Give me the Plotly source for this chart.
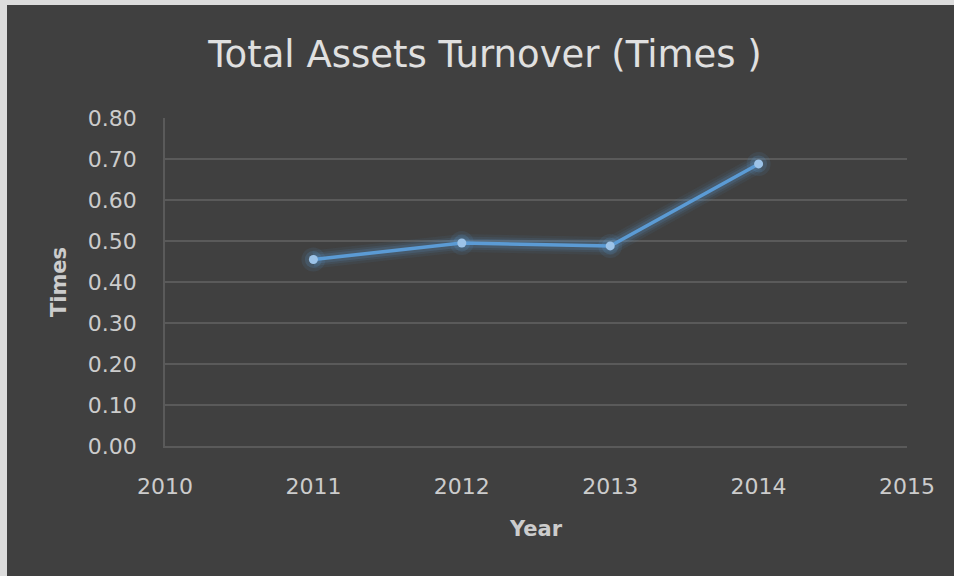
import plotly.graph_objects as go

# Total assets turnover by year
years = [2011, 2012, 2013, 2014]
turnover = [0.455, 0.495, 0.488, 0.688]

y_ticks = [0.0, 0.1, 0.2, 0.3, 0.4, 0.5, 0.6, 0.7, 0.8]
y_tick_labels = ["0.00", "0.10", "0.20", "0.30", "0.40", "0.50", "0.60", "0.70", "0.80"]
x_ticks = [2010, 2011, 2012, 2013, 2014, 2015]

BG = "#404040"
GRID = "#5a5a5a"
TEXT = "#cccccc"
LINE = "#5b9bd5"
FONT = "DejaVu Sans"

W, H = 954, 576
L, R, T, B = 165, 47, 118, 130
PW, PH = W - L - R, H - T - B

fig = go.Figure()

# soft glow under the line
for width, alpha in [(18, 0.07), (13, 0.1), (9, 0.16)]:
    fig.add_trace(go.Scatter(
        x=years, y=turnover, mode="lines",
        line=dict(color=f"rgba(91,155,213,{alpha})", width=width),
        hoverinfo="skip", showlegend=False,
    ))

# glow around the markers
for size, alpha in [(24, 0.1), (17, 0.18)]:
    fig.add_trace(go.Scatter(
        x=years, y=turnover, mode="markers",
        marker=dict(color=f"rgba(91,155,213,{alpha})", size=size, line=dict(width=0)),
        hoverinfo="skip", showlegend=False,
    ))

fig.add_trace(go.Scatter(
    x=years, y=turnover, mode="lines+markers",
    line=dict(color=LINE, width=3.5),
    marker=dict(color="#9cc3e8", size=9, line=dict(width=0)),
    showlegend=False,
))

# light frame strips along the left and top edges
px = lambda v: (v - L) / PW
py = lambda v: (H - B - v) / PH
shapes = [
    dict(type="rect", xref="paper", yref="paper", x0=px(0), x1=px(7), y0=py(H), y1=py(0),
         fillcolor="#dcdcdc", line=dict(width=0), layer="above"),
    dict(type="rect", xref="paper", yref="paper", x0=px(0), x1=px(W), y0=py(5), y1=py(0),
         fillcolor="#dcdcdc", line=dict(width=0), layer="above"),
]

fig.update_layout(
    width=W, height=H,
    margin=dict(l=L, r=R, t=T, b=B, autoexpand=False),
    paper_bgcolor=BG, plot_bgcolor=BG,
    font=dict(family=FONT, color=TEXT),
    title=dict(text="Total Assets Turnover (Times )", x=485 / W, xanchor="center",
               y=1 - 54 / H, yanchor="middle",
               font=dict(family=FONT, size=37, color="#e0e0e0")),
    shapes=shapes,
    xaxis=dict(
        range=[2010, 2015], tickvals=x_ticks, ticktext=[str(v) for v in x_ticks],
        showgrid=False, zeroline=False, showline=True, linecolor=GRID, linewidth=1.5,
        ticks="",
        tickfont=dict(size=22, color=TEXT), ticklabelstandoff=20,
        title=dict(text="<b>Year</b>", font=dict(size=21, color=TEXT), standoff=23),
    ),
    yaxis=dict(
        range=[0, 0.8], tickvals=y_ticks, ticktext=y_tick_labels,
        showgrid=True, gridcolor=GRID, gridwidth=1.5, zeroline=False,
        showline=True, linecolor=GRID, linewidth=1.5, ticks="",
        tickfont=dict(size=22, color=TEXT), ticklabelstandoff=22,
        title=dict(text="<b>Times</b>", font=dict(size=21, color=TEXT), standoff=16),
    ),
)

fig.write_html("out.html")
